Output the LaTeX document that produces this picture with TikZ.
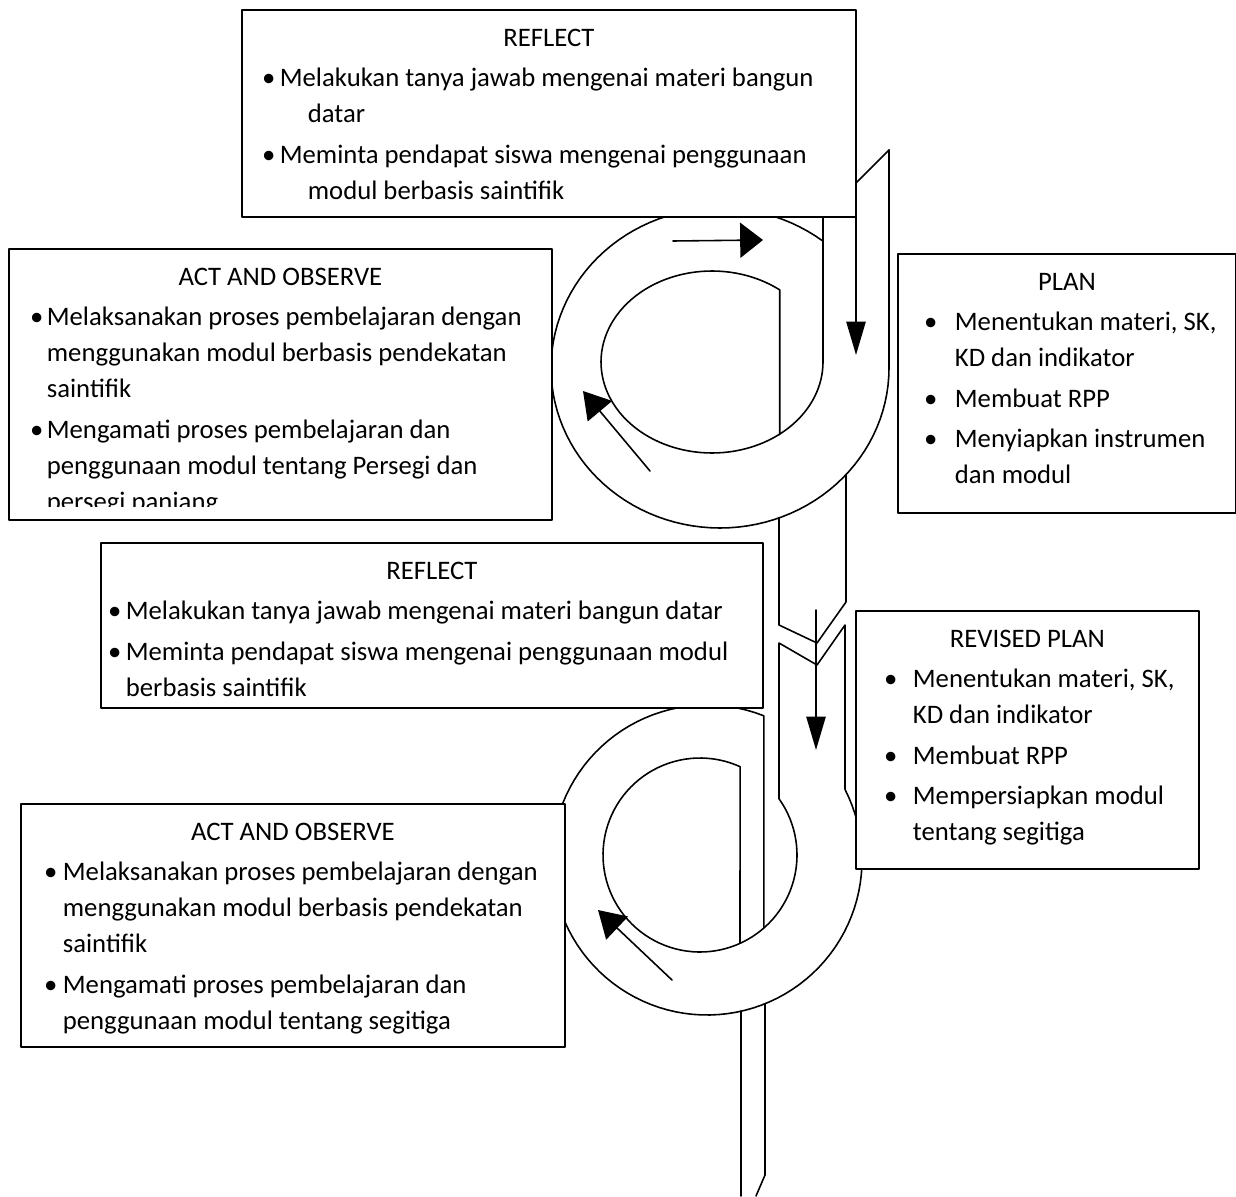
\documentclass[tikz,border=0pt]{standalone}
\usepackage{fontspec}
\setmainfont{Carlito}
\usetikzlibrary{arrows.meta,positioning}
\newlength{\pxu}\setlength{\pxu}{0.02cm}
\newcommand{\stagefont}{\fontsize{15.2pt}{20.5pt}\selectfont}
\newcommand{\stagebox}[3]{\begin{minipage}[t][#2\pxu][t]{#1\pxu}\setlength{\parskip}{4.5\pxu}\raggedright\rightskip=-60pt plus 1fil\relax\vspace*{11\pxu}#3\end{minipage}}
\newcommand{\stagetitle}[1]{{\centering\strut#1\par}}
\newcommand{\itm}[4]{\par\hangindent=#3\pxu\hangafter=1\noindent\hspace*{#1\pxu}\makebox[0pt]{\textbullet}\hspace*{\dimexpr#2\pxu-#1\pxu\relax}#4\par}
\begin{document}
\begin{tikzpicture}[x=0.02cm,y=-0.02cm,line join=round,line cap=round,
  band/.style={line width=0.9pt},
  stage/.style={draw,line width=1pt,fill=white,inner sep=0pt,anchor=north west,font=\stagefont},
  flowh/.style={line width=0.9pt,-{Triangle[length=13pt,width=20pt]}},
  flowv/.style={line width=0.9pt,-{Triangle[length=19pt,width=11pt]}},
  flowd/.style={line width=0.9pt,-{Triangle[length=15pt,width=18pt]}}]
\useasboundingbox (0,0) rectangle (1236,1196);
% first cycle
\draw[band] (889,150) -- (889,368) -- plot[domain=0:307.5,samples=100] ({720+169*cos(\x)},{368+160*sin(\x)});
\draw[band] (823,216) -- (889,150);
\draw[band] (823,216) -- (823,362) -- plot[domain=0:307.6,samples=100] ({712+111*cos(\x)},{362+91*sin(\x)}) -- (779.7,434.5);
\draw[band] (779,518) -- (779,625) -- (817,643) -- (846,602) -- (846,475);
% second cycle
\draw[band] (845,789) -- (845,625) -- (817,665) -- (779,643) -- (779,799) -- plot[domain=-35.3:294.4,samples=100] ({700+97*cos(\x)},{855+97*sin(\x)}) -- (740,943);
\draw[band] (845,789.6) -- plot[domain=-27:291.5,samples=100] ({707+155*cos(\x)},{860+155*sin(\x)}) -- (763.8,928);
\draw[band] (741,1011) -- (741,1196);
\draw[band] (765,1004) -- (765,1175) -- (756,1196);
\path (673,241) coordinate (topA) (763,240) coordinate (topB)
      (856,216) coordinate (dnA) (856,355) coordinate (dnB)
      (650,471) coordinate (upA) (583,391) coordinate (upB)
      (816,610) coordinate (dnC) (816,750) coordinate (dnD)
      (672,980) coordinate (upC) (598,910) coordinate (upD);
\draw[flowh] (topA) -- (topB);
\draw[flowv] (dnA) -- (dnB);
\draw[flowd] (upA) -- (upB);
\draw[flowv] (dnC) -- (dnD);
\draw[flowd] (upC) -- (upD);
\node[stage] (reflA) at (241,9) {\stagebox{614}{207}{\stagetitle{REFLECT}
  \itm{27}{38}{66}{Melakukan tanya jawab mengenai materi bangun\newline datar}
  \itm{27}{38}{66}{Meminta pendapat siswa mengenai penggunaan\newline modul berbasis saintifik}}};
\node[stage] (actA) at (8,248) {\stagebox{543}{271}{\stagetitle{ACT AND OBSERVE}
  \itm{28}{38}{38}{Melaksanakan proses pembelajaran dengan\newline menggunakan modul berbasis pendekatan\newline saintifik}
  \itm{28}{38}{38}{Mengamati proses pembelajaran dan\newline penggunaan modul tentang Persegi dan\newline persegi panjang}}};
\fill[white] (9.5,506.5) rectangle (549.5,517.8);
\node[stage] (planA) at (897,253) {\stagebox{338}{259}{\stagetitle{PLAN}
  \itm{33}{57}{57}{Menentukan materi, SK,\newline KD dan indikator}
  \itm{33}{57}{57}{Membuat RPP}
  \itm{33}{57}{57}{Menyiapkan instrumen\newline dan modul}}};
\node[stage] (reflB) at (100,542) {\stagebox{662}{165}{\stagetitle{REFLECT}
  \itm{14}{25}{25}{Melakukan tanya jawab mengenai materi bangun datar}
  \itm{14}{25}{25}{Meminta pendapat siswa mengenai penggunaan modul\newline berbasis saintifik}}};
\node[stage] (planB) at (855,610) {\stagebox{343}{258}{\stagetitle{REVISED PLAN}
  \itm{35}{57}{57}{Menentukan materi, SK,\newline KD dan indikator}
  \itm{35}{57}{57}{Membuat RPP}
  \itm{35}{57}{57}{Mempersiapkan modul\newline tentang segitiga}}};
\node[stage] (actB) at (20,803) {\stagebox{544}{243}{\stagetitle{ACT AND OBSERVE}
  \itm{30}{42}{42}{Melaksanakan proses pembelajaran dengan\newline menggunakan modul berbasis pendekatan\newline saintifik}
  \itm{30}{42}{42}{Mengamati proses pembelajaran dan\newline penggunaan modul tentang segitiga}}};
\end{tikzpicture}
\end{document}
